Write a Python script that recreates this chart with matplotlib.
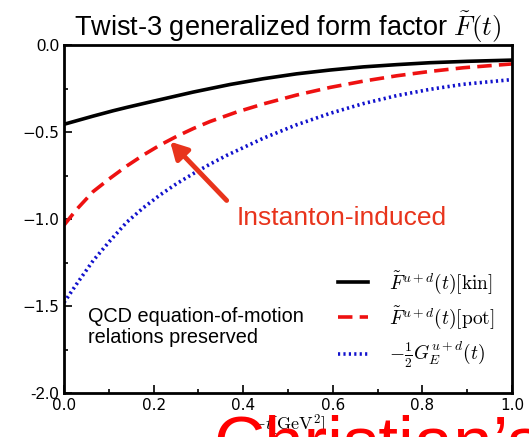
import matplotlib
matplotlib.use("Agg")
import matplotlib.pyplot as plt
from matplotlib.ticker import MultipleLocator

plt.rcParams['mathtext.fontset'] = 'cm'

t_kin = [0.0, 0.065, 0.11, 0.14, 0.2, 0.288, 0.371, 0.445, 0.519, 0.594, 0.668, 0.743, 0.817, 0.9, 1.0]
F_kin = [-0.455, -0.408, -0.377, -0.358, -0.322, -0.27, -0.226, -0.193, -0.165, -0.143, -0.125,
         -0.112, -0.101, -0.093, -0.086]

t_pot = [0.0, 0.028, 0.065, 0.103, 0.14, 0.177, 0.214, 0.251, 0.289, 0.326, 0.385, 0.445, 0.519,
         0.594, 0.668, 0.743, 0.817, 0.891, 1.0]
F_pot = [-1.035, -0.945, -0.842, -0.765, -0.695, -0.632, -0.575, -0.525, -0.479, -0.439, -0.385,
         -0.338, -0.287, -0.243, -0.207, -0.176, -0.151, -0.13, -0.108]

t_ge = [0.0, 0.028, 0.065, 0.103, 0.14, 0.177, 0.214, 0.251, 0.289, 0.326, 0.363, 0.445, 0.519,
        0.594, 0.668, 0.743, 0.817, 0.891, 1.0]
G_E = [-1.48, -1.374, -1.239, -1.124, -1.018, -0.935, -0.862, -0.797, -0.738, -0.684, -0.634,
       -0.535, -0.458, -0.392, -0.336, -0.29, -0.254, -0.225, -0.198]

labels = [r'$\tilde{F}^{u+d}(t)[\mathrm{kin}]$',
          r'$\tilde{F}^{u+d}(t)[\mathrm{pot}]$',
          r'$-\frac{1}{2}G_E^{u+d}(t)$']
yticks = [0.0, -0.5, -1.0, -1.5, -2.0]
ytick_labels = ['0.0', '\u22120.5', '\u22121.0', '\u22121.5', '-2.0']
xticks = [0.0, 0.2, 0.4, 0.6, 0.8, 1.0]
xtick_labels = ['0.0', '0.2', '0.4', '0.6', '0.8', '1.0']

fig = plt.figure(figsize=(5.29, 4.37), dpi=100)
ax = fig.add_axes([0.121, 0.1007, 0.847, 0.796])

ax.plot(t_kin, F_kin, color='black', lw=2.6, label=labels[0])
ax.plot(t_pot, F_pot, color='#ee1111', lw=2.6, ls=(0, (4, 2)), label=labels[1])
ax.plot(t_ge, G_E, color='#1111cc', lw=2.6, ls=(0, (0.6, 0.9)), label=labels[2])

ax.set_xlim(0, 1)
ax.set_ylim(-2.0, 0.0)
ax.set_xticks(xticks)
ax.set_xticklabels(xtick_labels)
ax.set_yticks(yticks)
ax.set_yticklabels(ytick_labels)
ax.xaxis.set_minor_locator(MultipleLocator(0.1))
ax.yaxis.set_minor_locator(MultipleLocator(0.25))
ax.tick_params(which='both', direction='in', top=False, right=False, labelsize=11, width=1.2)
ax.tick_params(which='major', length=6)
ax.tick_params(which='minor', length=3)
for lab in ax.get_xticklabels() + ax.get_yticklabels():
    lab.set_fontfamily('DejaVu Sans')
ylabs = ax.get_yticklabels()
for i in (0, len(ylabs) - 1):
    ylabs[i].set_fontfamily('Liberation Sans')
    ylabs[i].set_fontsize(12)
for s in ax.spines.values():
    s.set_linewidth(2)

ax.set_title(r'Twist-3 generalized form factor $\tilde{F}(t)$', fontsize=19.5,
             family='Liberation Sans', pad=5)
ax.set_xlabel(r'$-t[\mathrm{GeV}^2]$', fontsize=13, labelpad=0)

ax.legend(loc='lower right', frameon=False, fontsize=14, handlelength=1.55,
          labelspacing=0.45, handletextpad=1.1, bbox_to_anchor=(1.0, 0.015))

ax.annotate('', xy=(0.237, -0.555), xytext=(0.363, -0.893),
            arrowprops=dict(arrowstyle='-|>,head_length=1.0,head_width=0.55',
                            color='#e8341c', lw=3.5, shrinkA=0, shrinkB=0))
ax.text(0.385, -0.995, 'Instanton-induced', color='#e8341c', fontsize=19,
        family='Liberation Sans', va='center', ha='left')
ax.text(0.054, -1.62, 'QCD equation-of-motion\nrelations preserved', fontsize=14.3,
        family='Liberation Sans', va='center', ha='left', linespacing=1.1)

fig.text(213 / 529, 1 - 466 / 437, 'Christian\u2019s', color='#ff0000', fontsize=51,
         family='Liberation Sans', va='baseline', ha='left')

fig.savefig('out.png', dpi=100)
